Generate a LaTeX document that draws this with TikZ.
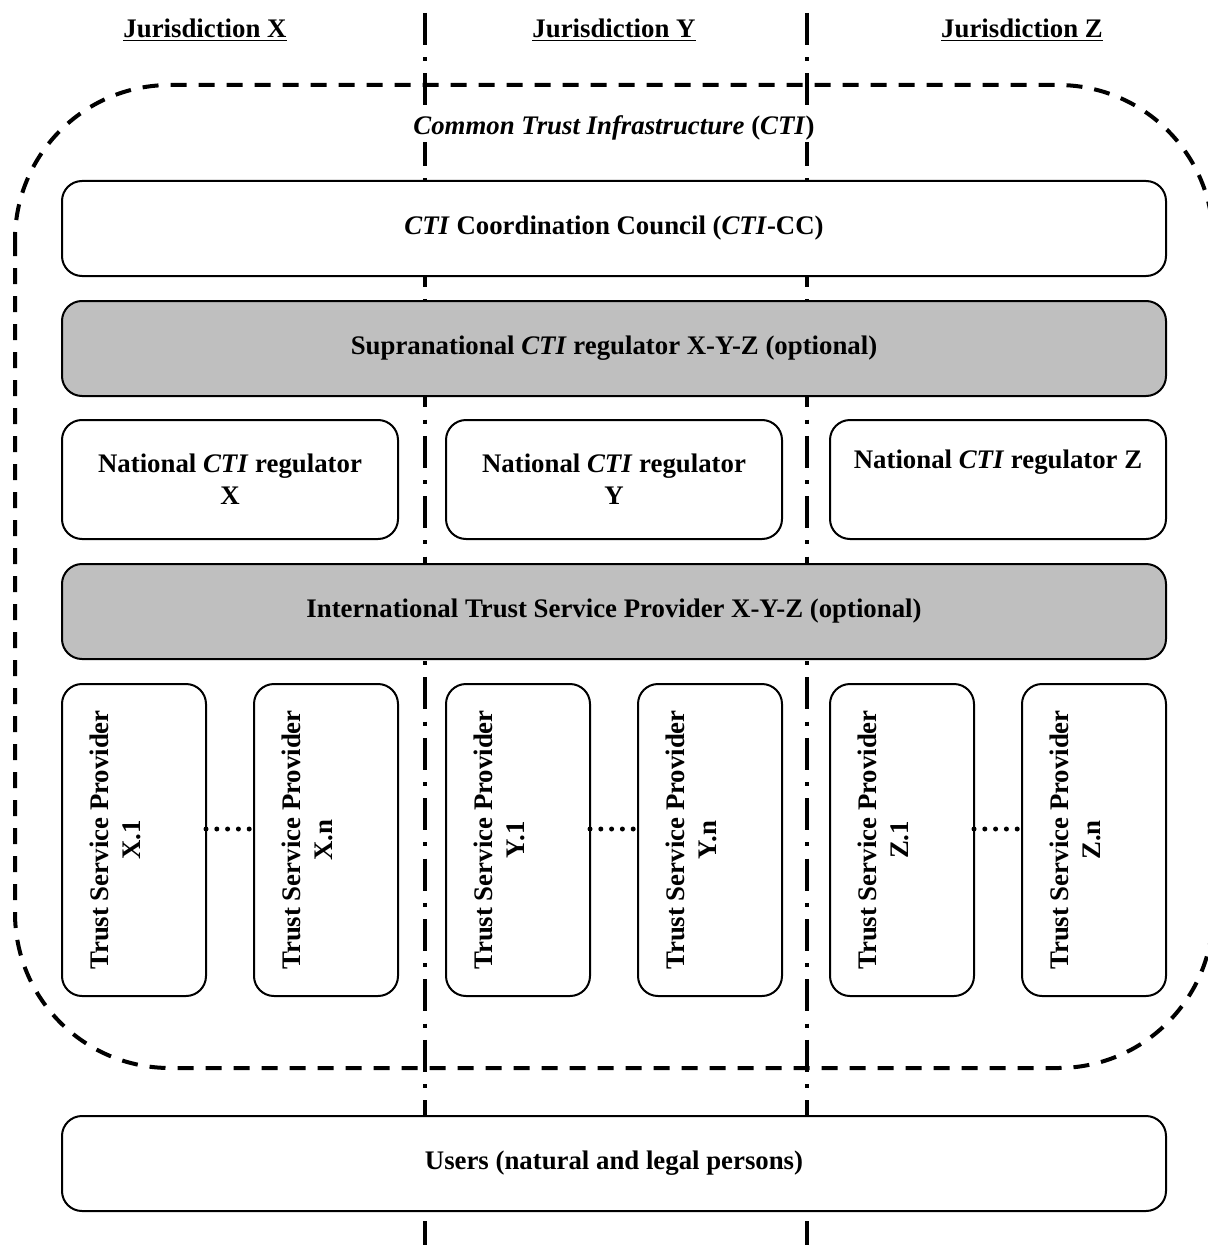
\documentclass[tikz,border=0pt]{standalone}
\usepackage{fontspec}
\setmainfont{Liberation Serif}
\usepackage{graphicx}
\usepackage{xcolor}
\usetikzlibrary{positioning}

\definecolor{boxgrey}{RGB}{191,191,191}

\tikzset{
	txt/.style={font=\fontsize{13.4}{16}\selectfont\bfseries},
	box/.style={txt, draw, line width=1pt, rounded corners=10pt, fill=white, align=center, inner sep=2pt, outer sep=0pt},
	widebox/.style={box, minimum width=552pt, minimum height=47.5pt},
	natbox/.style={box, minimum width=168pt, minimum height=59.5pt},
	tspbox/.style={box, minimum width=72pt, minimum height=156pt},
	border/.style={line width=1.8pt, dash pattern=on 16pt off 6.1pt on 2pt off 6.1pt},
	infra/.style={line width=2pt, dash pattern=on 8pt off 6pt, rounded corners=77.5pt},
	etc/.style={line width=2.5pt, line cap=round, dash pattern=on 0pt off 5.4pt},
}

\begin{document}
\begin{tikzpicture}[x=0.5pt, y=-0.5pt]
		\useasboundingbox (0,0) rectangle (1207,1257);
		%%jurisdiction borders
		\coordinate (bXYtop) at (425,13);
		\coordinate (bXYbot) at (425,1245);
		\coordinate (bYZtop) at (807,13);
		\coordinate (bYZbot) at (807,1245);
		\draw[border] (bXYtop) -- (bXYbot);
		\draw[border] (bYZtop) -- (bYZbot);
		\node[txt] (jurX) at (205,30) {\underline{Jurisdiction X}};
		\node[txt] (jurY) at (614,30) {\underline{Jurisdiction Y}};
		\node[txt] (jurZ) at (1022,30) {\underline{Jurisdiction Z}};
		%%common trust infrastructure
		\draw[infra] (15,85) rectangle (1213,1068);
		\node[txt, fill=white, inner sep=1pt] (cti) at (614,128) {\textit{Common Trust Infrastructure} (\textit{CTI})};
		%%nodes
		\node[widebox] (cc) at (614,228.5) {\textit{CTI} Coordination Council (\textit{CTI}-CC)};
		\node[widebox, fill=boxgrey, below=12.5pt of cc] (supra) {Supranational \textit{CTI} regulator X-Y-Z (optional)};
		\node[natbox, below right=12pt and 0pt of supra.south west] (natX) {National \textit{CTI} regulator\\X};
		\node[natbox, right=24pt of natX] (natY) {National \textit{CTI} regulator\\Y};
		\node[natbox, right=24pt of natY] (natZ) {National \textit{CTI} regulator Z\\\strut};
		\node[widebox, fill=boxgrey, below right=12.5pt and 0pt of natX.south west] (intl) {International Trust Service Provider X-Y-Z (optional)};
		\node[tspbox, below right=12.5pt and 0pt of intl.south west] (tspX1) {\rotatebox{90}{\begin{tabular}{@{}c@{}}Trust Service Provider\\X.1\\~\end{tabular}}};
		\node[tspbox, right=24pt of tspX1] (tspXn) {\rotatebox{90}{\begin{tabular}{@{}c@{}}Trust Service Provider\\X.n\\~\end{tabular}}};
		\node[tspbox, right=24pt of tspXn] (tspY1) {\rotatebox{90}{\begin{tabular}{@{}c@{}}Trust Service Provider\\Y.1\\~\end{tabular}}};
		\node[tspbox, right=24pt of tspY1] (tspYn) {\rotatebox{90}{\begin{tabular}{@{}c@{}}Trust Service Provider\\Y.n\\~\end{tabular}}};
		\node[tspbox, right=24pt of tspYn] (tspZ1) {\rotatebox{90}{\begin{tabular}{@{}c@{}}Trust Service Provider\\Z.1\\~\end{tabular}}};
		\node[tspbox, right=24pt of tspZ1] (tspZn) {\rotatebox{90}{\begin{tabular}{@{}c@{}}Trust Service Provider\\Z.n\\~\end{tabular}}};
		\node[widebox, below right=60pt and 0pt of tspX1.south west] (users) {Users (natural and legal persons)};
		%%dots between providers
		\draw[etc] ([yshift=5.5pt]tspX1.east) -- ([yshift=5.5pt]tspXn.west);
		\draw[etc] ([yshift=5.5pt]tspY1.east) -- ([yshift=5.5pt]tspYn.west);
		\draw[etc] ([yshift=5.5pt]tspZ1.east) -- ([yshift=5.5pt]tspZn.west);
	\end{tikzpicture}
\end{document}
